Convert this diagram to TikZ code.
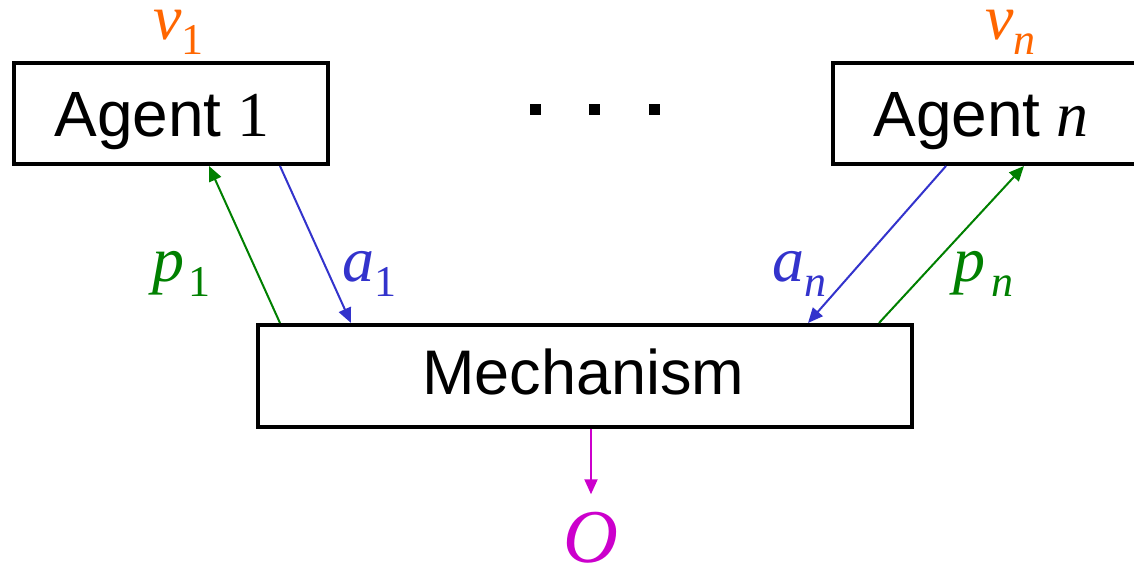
\documentclass[tikz,border=0pt]{standalone}
\usepackage{fontspec}
\setmainfont{Liberation Serif}
\newfontfamily\arialf{Liberation Sans}
\usetikzlibrary{calc,arrows.meta}
\definecolor{vorange}{RGB}{255,102,0}
\definecolor{pgreen}{RGB}{0,128,0}
\definecolor{ablue}{RGB}{51,51,204}
\definecolor{omag}{RGB}{204,0,204}
\newcommand\bigsz{\fontsize{32}{32}\selectfont}
\newcommand\subsz{\fontsize{22}{22}\selectfont}
\newcommand\lbl[2]{{\bigsz\itshape #1}\raisebox{-7.5pt}{\subsz #2}}
\tikzset{
  box/.style={draw=black, line width=2pt, rectangle, inner sep=0pt},
  txt/.style={inner sep=0pt, anchor=base west},
  conn/.style={line width=1pt, -{Triangle[length=7.5pt,width=6.5pt]}},
  dotsq/.style={fill=black, rectangle, minimum size=5.5pt, inner sep=0pt},
}
\begin{document}
\begin{tikzpicture}[x=0.5pt,y=-0.5pt]
\clip (0,0) rectangle (1134,565);
\fill[white] (0,0) rectangle (1134,565);
% boxes
\node[box, minimum width=157pt, minimum height=50.5pt] (ag1) at (171,113.5) {};
\node[box, minimum width=153.5pt, minimum height=50.5pt] (agn) at (986.5,113.5) {};
\node[box, minimum width=327pt, minimum height=51pt] (mech) at (585,376) {};
% box texts
\node[txt] (t1) at (54,137) {\fontsize{32}{32}\selectfont{\arialf Agent} 1};
\node[txt] (tn) at (873,137) {\fontsize{32}{32}\selectfont{\arialf Agent} \itshape n};
\node[txt] (tm) at (422,395) {\fontsize{31.5}{31.5}\selectfont\arialf Mechanism};
% dots
\node[dotsq] (d1) at (535,110) {};
\node[dotsq] (d2) at (594,110) {};
\node[dotsq] (d3) at (654,110) {};
% labels
\node[txt, text=vorange] (v1) at (153,40) {\lbl{v}{1}};
\node[txt, text=vorange] (vn) at (985,40) {\lbl{v}{\itshape n}};
\node[txt, text=pgreen] (p1) at (152,282) {\lbl{p\kern2pt}{1}};
\node[txt, text=ablue] (a1) at (342,282) {\lbl{a}{1}};
\node[txt, text=ablue] (an) at (772,282) {\lbl{a}{\itshape n}};
\node[txt, text=pgreen] (pn) at (953,282) {\lbl{p\kern3pt}{\itshape n}};
\node[inner sep=0pt, anchor=base, text=omag] (O) at (591,563) {\fontsize{38}{38}\selectfont\itshape O};
% connectors
\coordinate (p1s) at ($(mech.north west)+(24,0)$);
\coordinate (p1e) at ($(ag1.south west)+(197,0)$);
\coordinate (a1s) at ($(ag1.south west)+(268,0)$);
\coordinate (a1e) at ($(mech.north west)+(95,0)$);
\coordinate (ans) at ($(agn.south west)+(115,0)$);
\coordinate (ane) at ($(mech.north west)+(552,0)$);
\coordinate (pns) at ($(mech.north west)+(623,0)$);
\coordinate (pne) at ($(agn.south west)+(193,0)$);
\coordinate (os) at ($(mech.south west)+(335,0)$);
\coordinate (oe) at ($(O.north)+(2,-18)$);
\draw[conn, pgreen] (p1s) -- (p1e);
\draw[conn, ablue] (a1s) -- (a1e);
\draw[conn, ablue] (ans) -- (ane);
\draw[conn, pgreen] (pns) -- (pne);
\draw[conn, omag] (os) -- (os |- oe);
\end{tikzpicture}
\end{document}
